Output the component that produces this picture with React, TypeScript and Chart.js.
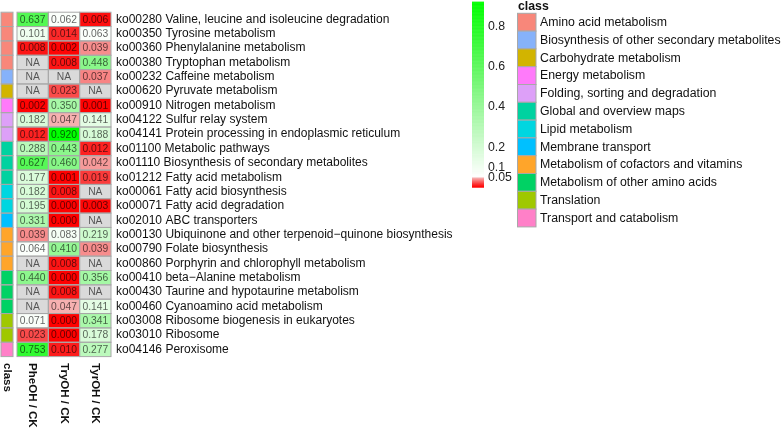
import React, { useEffect, useRef } from "react";
import { Chart, registerables } from "chart.js";

Chart.register(...registerables);

// ---------- data ----------
const pathways = [
  "ko00280 Valine, leucine and isoleucine degradation",
  "ko00350 Tyrosine metabolism",
  "ko00360 Phenylalanine metabolism",
  "ko00380 Tryptophan metabolism",
  "ko00232 Caffeine metabolism",
  "ko00620 Pyruvate metabolism",
  "ko00910 Nitrogen metabolism",
  "ko04122 Sulfur relay system",
  "ko04141 Protein processing in endoplasmic reticulum",
  "ko01100 Metabolic pathways",
  "ko01110 Biosynthesis of secondary metabolites",
  "ko01212 Fatty acid metabolism",
  "ko00061 Fatty acid biosynthesis",
  "ko00071 Fatty acid degradation",
  "ko02010 ABC transporters",
  "ko00130 Ubiquinone and other terpenoid\u2212quinone biosynthesis",
  "ko00790 Folate biosynthesis",
  "ko00860 Porphyrin and chlorophyll metabolism",
  "ko00410 beta\u2212Alanine metabolism",
  "ko00430 Taurine and hypotaurine metabolism",
  "ko00460 Cyanoamino acid metabolism",
  "ko03008 Ribosome biogenesis in eukaryotes",
  "ko03010 Ribosome",
  "ko04146 Peroxisome",
];

const classNames = [
  "Amino acid metabolism",
  "Biosynthesis of other secondary metabolites",
  "Carbohydrate metabolism",
  "Energy metabolism",
  "Folding, sorting and degradation",
  "Global and overview maps",
  "Lipid metabolism",
  "Membrane transport",
  "Metabolism of cofactors and vitamins",
  "Metabolism of other amino acids",
  "Translation",
  "Transport and catabolism",
];

const classColors = [
  "#F8877A",
  "#86B2FA",
  "#D2B400",
  "#FF7AFA",
  "#DDA0F8",
  "#00D2A0",
  "#00D6E0",
  "#00C0FF",
  "#FFA52A",
  "#00D264",
  "#9FC800",
  "#FF80C8",
];

const rowClass = [0, 0, 0, 0, 1, 2, 3, 4, 4, 5, 5, 5, 6, 6, 7, 8, 8, 8, 9, 9, 9, 10, 10, 11];

const pheOH: (number | null)[] = [
  0.637, 0.101, 0.008, null, null, null, 0.002, 0.182, 0.012, 0.288, 0.627, 0.177,
  0.182, 0.195, 0.331, 0.039, 0.064, null, 0.44, null, null, 0.071, 0.023, 0.753,
];
const tryOH: (number | null)[] = [
  0.062, 0.014, 0.002, 0.008, null, 0.023, 0.35, 0.047, 0.92, 0.443, 0.46, 0.001,
  0.008, 0.0, 0.0, 0.083, 0.41, 0.008, 0.0, 0.008, 0.047, 0.0, 0.0, 0.01,
];
const tyrOH: (number | null)[] = [
  0.006, 0.063, 0.039, 0.448, 0.037, null, 0.001, 0.141, 0.188, 0.012, 0.042, 0.019,
  null, 0.003, null, 0.219, 0.039, null, 0.356, null, 0.141, 0.341, 0.178, 0.277,
];

const columnLabels = ["PheOH / CK", "TryOH / CK", "TyrOH / CK"];
const legendTicks = [0.8, 0.6, 0.4, 0.2, 0.1, 0.05];
const valueMax = 0.92;
const redCut = 0.05;

// ---------- layout / style ----------
const W = 783;
const H = 428;
const FONT = "'Liberation Sans', Arial, Helvetica, sans-serif";
const BORDER = "#A8A8A8";
const NA_COLOR = "#DADADA";
const AREA_LEFT = 1;
const AREA_RIGHT = 111;
const AREA_BOTTOM = 356.6;
const X_MAX = 110;
const CLASS_W = 12;
const CELL_START = 16;
const CELL_W = (X_MAX - CELL_START) / 3;

function cellColor(v: number | null): string {
  if (v === null) return NA_COLOR;
  if (v < redCut) {
    const t = v / redCut;
    const gb = Math.round(190 * Math.pow(t, 1.2));
    const r = Math.round(255 - 10 * t);
    return `rgb(${r},${gb},${gb})`;
  }
  const t = Math.min(1, (v - redCut) / (valueMax - redCut));
  const rb = Math.round(255 * (1 - t));
  const g = Math.round(255 - 8 * Math.sin(Math.PI * t));
  return `rgb(${rb},${g},${rb})`;
}

const seriesList = [pheOH, tryOH, tyrOH];

// legend geometry
const LEG_X = 472;
const LEG_W = 12;
const legY = (v: number) => 187 - v * 201.5;

const heatPlugin = {
  id: "heatDecor",
  afterDatasetsDraw(chart: any) {
    const ctx = chart.ctx as CanvasRenderingContext2D;
    ctx.save();
    chart.data.datasets.forEach((ds: any, di: number) => {
      const meta = chart.getDatasetMeta(di);
      meta.data.forEach((el: any, i: number) => {
        const p = el.getProps(["x", "y", "base", "height"], true);
        const l = Math.min(p.x, p.base);
        const r = Math.max(p.x, p.base);
        const t = p.y - p.height / 2;
        const b = p.y + p.height / 2;
        ctx.strokeStyle = BORDER;
        ctx.lineWidth = 1;
        ctx.strokeRect(l, t, r - l, b - t);
        if (di > 0) {
          const v = seriesList[di - 1][i];
          ctx.fillStyle = "rgba(0,0,0,0.62)";
          ctx.font = `10.3px ${FONT}`;
          ctx.textAlign = "center";
          ctx.textBaseline = "middle";
          ctx.fillText(v === null ? "NA" : v.toFixed(3), (l + r) / 2, p.y + 0.5);
        }
      });
    });
    // column labels (rotated)
    const xs = chart.scales.x;
    const labelTop = chart.chartArea.bottom + 6.5;
    const colLabels = ["class", ...columnLabels];
    const centers = [CLASS_W / 2, ...columnLabels.map((_, k) => CELL_START + CELL_W * (k + 0.5))];
    ctx.fillStyle = "#111";
    ctx.font = `bold 11.5px ${FONT}`;
    ctx.textAlign = "left";
    ctx.textBaseline = "middle";
    colLabels.forEach((lab, k) => {
      ctx.save();
      ctx.translate(xs.getPixelForValue(centers[k]), labelTop);
      ctx.rotate(Math.PI / 2);
      ctx.fillText(lab, 0, 0);
      ctx.restore();
    });
    ctx.restore();
  },
  afterDraw(chart: any) {
    const ctx = chart.ctx as CanvasRenderingContext2D;
    ctx.save();
    // colour bar: red part
    const steps = 60;
    for (let s = 0; s < steps; s++) {
      const v0 = (redCut * s) / steps;
      const v1 = (redCut * (s + 1)) / steps;
      ctx.fillStyle = cellColor(v0);
      ctx.fillRect(LEG_X, legY(v1), LEG_W, legY(v0) - legY(v1) + 0.5);
    }
    // green part
    const gsteps = 300;
    for (let s = 0; s < gsteps; s++) {
      const v0 = redCut + ((valueMax - redCut) * s) / gsteps;
      const v1 = redCut + ((valueMax - redCut) * (s + 1)) / gsteps;
      ctx.fillStyle = cellColor(v0);
      ctx.fillRect(LEG_X, legY(v1), LEG_W, legY(v0) - legY(v1) + 0.5);
    }
    ctx.fillStyle = "#222";
    ctx.font = `12.3px ${FONT}`;
    ctx.textAlign = "left";
    ctx.textBaseline = "middle";
    legendTicks.forEach((v) => {
      ctx.fillText(String(v), LEG_X + LEG_W + 4, legY(v) + 0.5);
    });

    // class legend
    const cx = 517;
    const top = 13.3;
    const sh = 17.8;
    ctx.font = `bold 12.3px ${FONT}`;
    ctx.fillStyle = "#111";
    ctx.fillText("class", cx + 1, 6.5);
    ctx.font = `12.3px ${FONT}`;
    classNames.forEach((name, k) => {
      const y = top + k * sh;
      ctx.fillStyle = classColors[k];
      ctx.fillRect(cx, y, 19, sh);
      ctx.strokeStyle = BORDER;
      ctx.lineWidth = 1;
      ctx.strokeRect(cx + 0.5, y, 18.5, sh);
      ctx.fillStyle = "#111";
      ctx.fillText(name, cx + 23, y + sh / 2 + 0.5);
    });
    ctx.restore();
  },
};

export default function App() {
  const ref = useRef<HTMLCanvasElement | null>(null);
  useEffect(() => {
    if (!ref.current) return;
    Chart.defaults.font.family = FONT;
    const classBars = pathways.map(() => [0, CLASS_W]);
    const datasets: any[] = [
      {
        label: "class",
        data: classBars,
        backgroundColor: rowClass.map((c) => classColors[c]),
        stack: "all",
      },
      ...seriesList.map((vals, k) => ({
        label: columnLabels[k],
        data: vals.map(() => [CELL_START + CELL_W * k, CELL_START + CELL_W * (k + 1)]),
        backgroundColor: vals.map((v) => cellColor(v)),
        stack: "all",
      })),
    ];
    const chart = new Chart(ref.current, {
      type: "bar",
      data: { labels: pathways, datasets },
      options: {
        responsive: false,
        animation: false,
        indexAxis: "y",
        events: [],
        layout: { padding: { top: 1, left: AREA_LEFT, right: 0, bottom: H - AREA_BOTTOM } },
        datasets: {
          bar: { barPercentage: 1, categoryPercentage: 1, borderWidth: 0, inflateAmount: 0 },
        },
        plugins: {
          legend: { display: false },
          tooltip: { enabled: false },
          title: { display: false },
        },
        scales: {
          x: { type: "linear", min: 0, max: X_MAX, display: false, stacked: false },
          y: {
            type: "category",
            position: "right",
            stacked: true,
            offset: true,
            grid: { display: false, drawTicks: false },
            border: { display: false },
            ticks: {
              autoSkip: false,
              padding: 5,
              color: "#111",
              font: { size: 12, family: FONT },
            },
            afterFit(scale: any) {
              scale.width = W - AREA_RIGHT;
            },
          },
        },
      } as any,
      plugins: [heatPlugin],
    });
    return () => chart.destroy();
  }, []);
  return (
    <div style={{ position: "fixed", left: 0, top: 0, width: W, height: H, background: "#fff" }}>
      <canvas ref={ref} width={W} height={H} style={{ display: "block", width: W, height: H }} />
    </div>
  );
}
